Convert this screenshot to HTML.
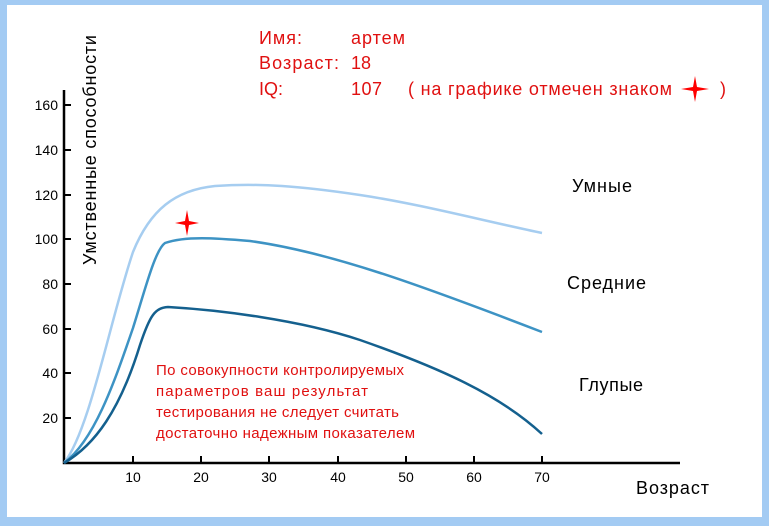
<!DOCTYPE html>
<html><head><meta charset="utf-8"><style>
html,body{margin:0;padding:0;}
body{width:769px;height:526px;background:#a3cbf3;position:relative;overflow:hidden;font-family:"Liberation Sans",sans-serif;}
#w{position:absolute;left:7px;top:5px;width:755px;height:512px;background:#fff;}
</style></head><body>
<div id="w"></div>
<svg width="769" height="526" style="position:absolute;left:0;top:0" font-family="Liberation Sans, sans-serif">
<g stroke="#000" stroke-width="2.5" fill="none">
<path d="M64 90 V463 H680"/>
</g>
<g stroke="#000" stroke-width="2">
<path d="M64 418h7M64 373h7M64 329h7M64 284h7M64 239h7M64 195h7M64 150h7M64 105h7"/>
<path d="M133 463v-7M201 463v-7M269 463v-7M338 463v-7M406 463v-7M474 463v-7M542 463v-7"/>
</g>
<g font-size="14" fill="#000" text-anchor="end">
<text x="58" y="423">20</text><text x="58" y="378">40</text><text x="58" y="334">60</text><text x="58" y="289">80</text>
<text x="58" y="244">100</text><text x="58" y="200">120</text><text x="58" y="155">140</text><text x="58" y="110">160</text>
</g>
<g font-size="14" fill="#000" text-anchor="middle">
<text x="133" y="482">10</text><text x="201" y="482">20</text><text x="269" y="482">30</text><text x="338" y="482">40</text>
<text x="406" y="482">50</text><text x="474" y="482">60</text><text x="542" y="482">70</text>
</g>
<text x="636" y="494" font-size="18" textLength="73">Возраст</text>
<text transform="translate(96,265) rotate(-90)" font-size="18" textLength="230">Умственные способности</text>
<g fill="none" stroke-width="2.5">
<path stroke="#a6cdf0" d="M64 463 C90 430,110 320,133 252 C150 210,175 190,215 186 C260 183,300 186,360 195 S480 220,542 233"/>
<path stroke="#3d93c4" d="M64 463 C95 440,115 380,133 328 C145 290,155 250,165 243 C185 236,215 238,250 241 C330 252,420 285,542 332"/>
<path stroke="#14608e" d="M64 463 C95 445,120 410,140 345 C150 315,155 308,168 307 C220 310,300 320,360 340 C440 368,500 395,542 434"/>
</g>
<path d="M187 210 L189 221 L199 223 L189 225 L187 236 L185 225 L175 223 L185 221Z" fill="#f00"/>
<path d="M695 76 L697 87 L709 89 L697 91 L695 102 L693 91 L681 89 L693 87Z" fill="#f00"/>
<g font-size="18" fill="#000">
<text x="572" y="192" textLength="60">Умные</text><text x="567" y="289" textLength="79">Средние</text><text x="579" y="391" textLength="64">Глупые</text>
</g>
<g font-size="18" fill="#e01010">
<text x="259" y="44" textLength="43">Имя:</text><text x="351" y="44" textLength="54">артем</text>
<text x="259" y="69" textLength="80">Возраст:</text><text x="351" y="69">18</text>
<text x="259" y="95">IQ:</text><text x="351" y="95" textLength="31">107</text>
<text x="408" y="95" textLength="264">( на графике отмечен знаком</text><text x="720" y="95">)</text>
</g>
<g font-size="15" fill="#e01010">
<text x="156" y="375" textLength="248">По совокупности контролируемых</text>
<text x="156" y="396" textLength="212">параметров ваш результат</text>
<text x="156" y="417" textLength="243">тестирования не следует считать</text>
<text x="156" y="438" textLength="259">достаточно надежным показателем</text>
</g>
</svg>
</body></html>
